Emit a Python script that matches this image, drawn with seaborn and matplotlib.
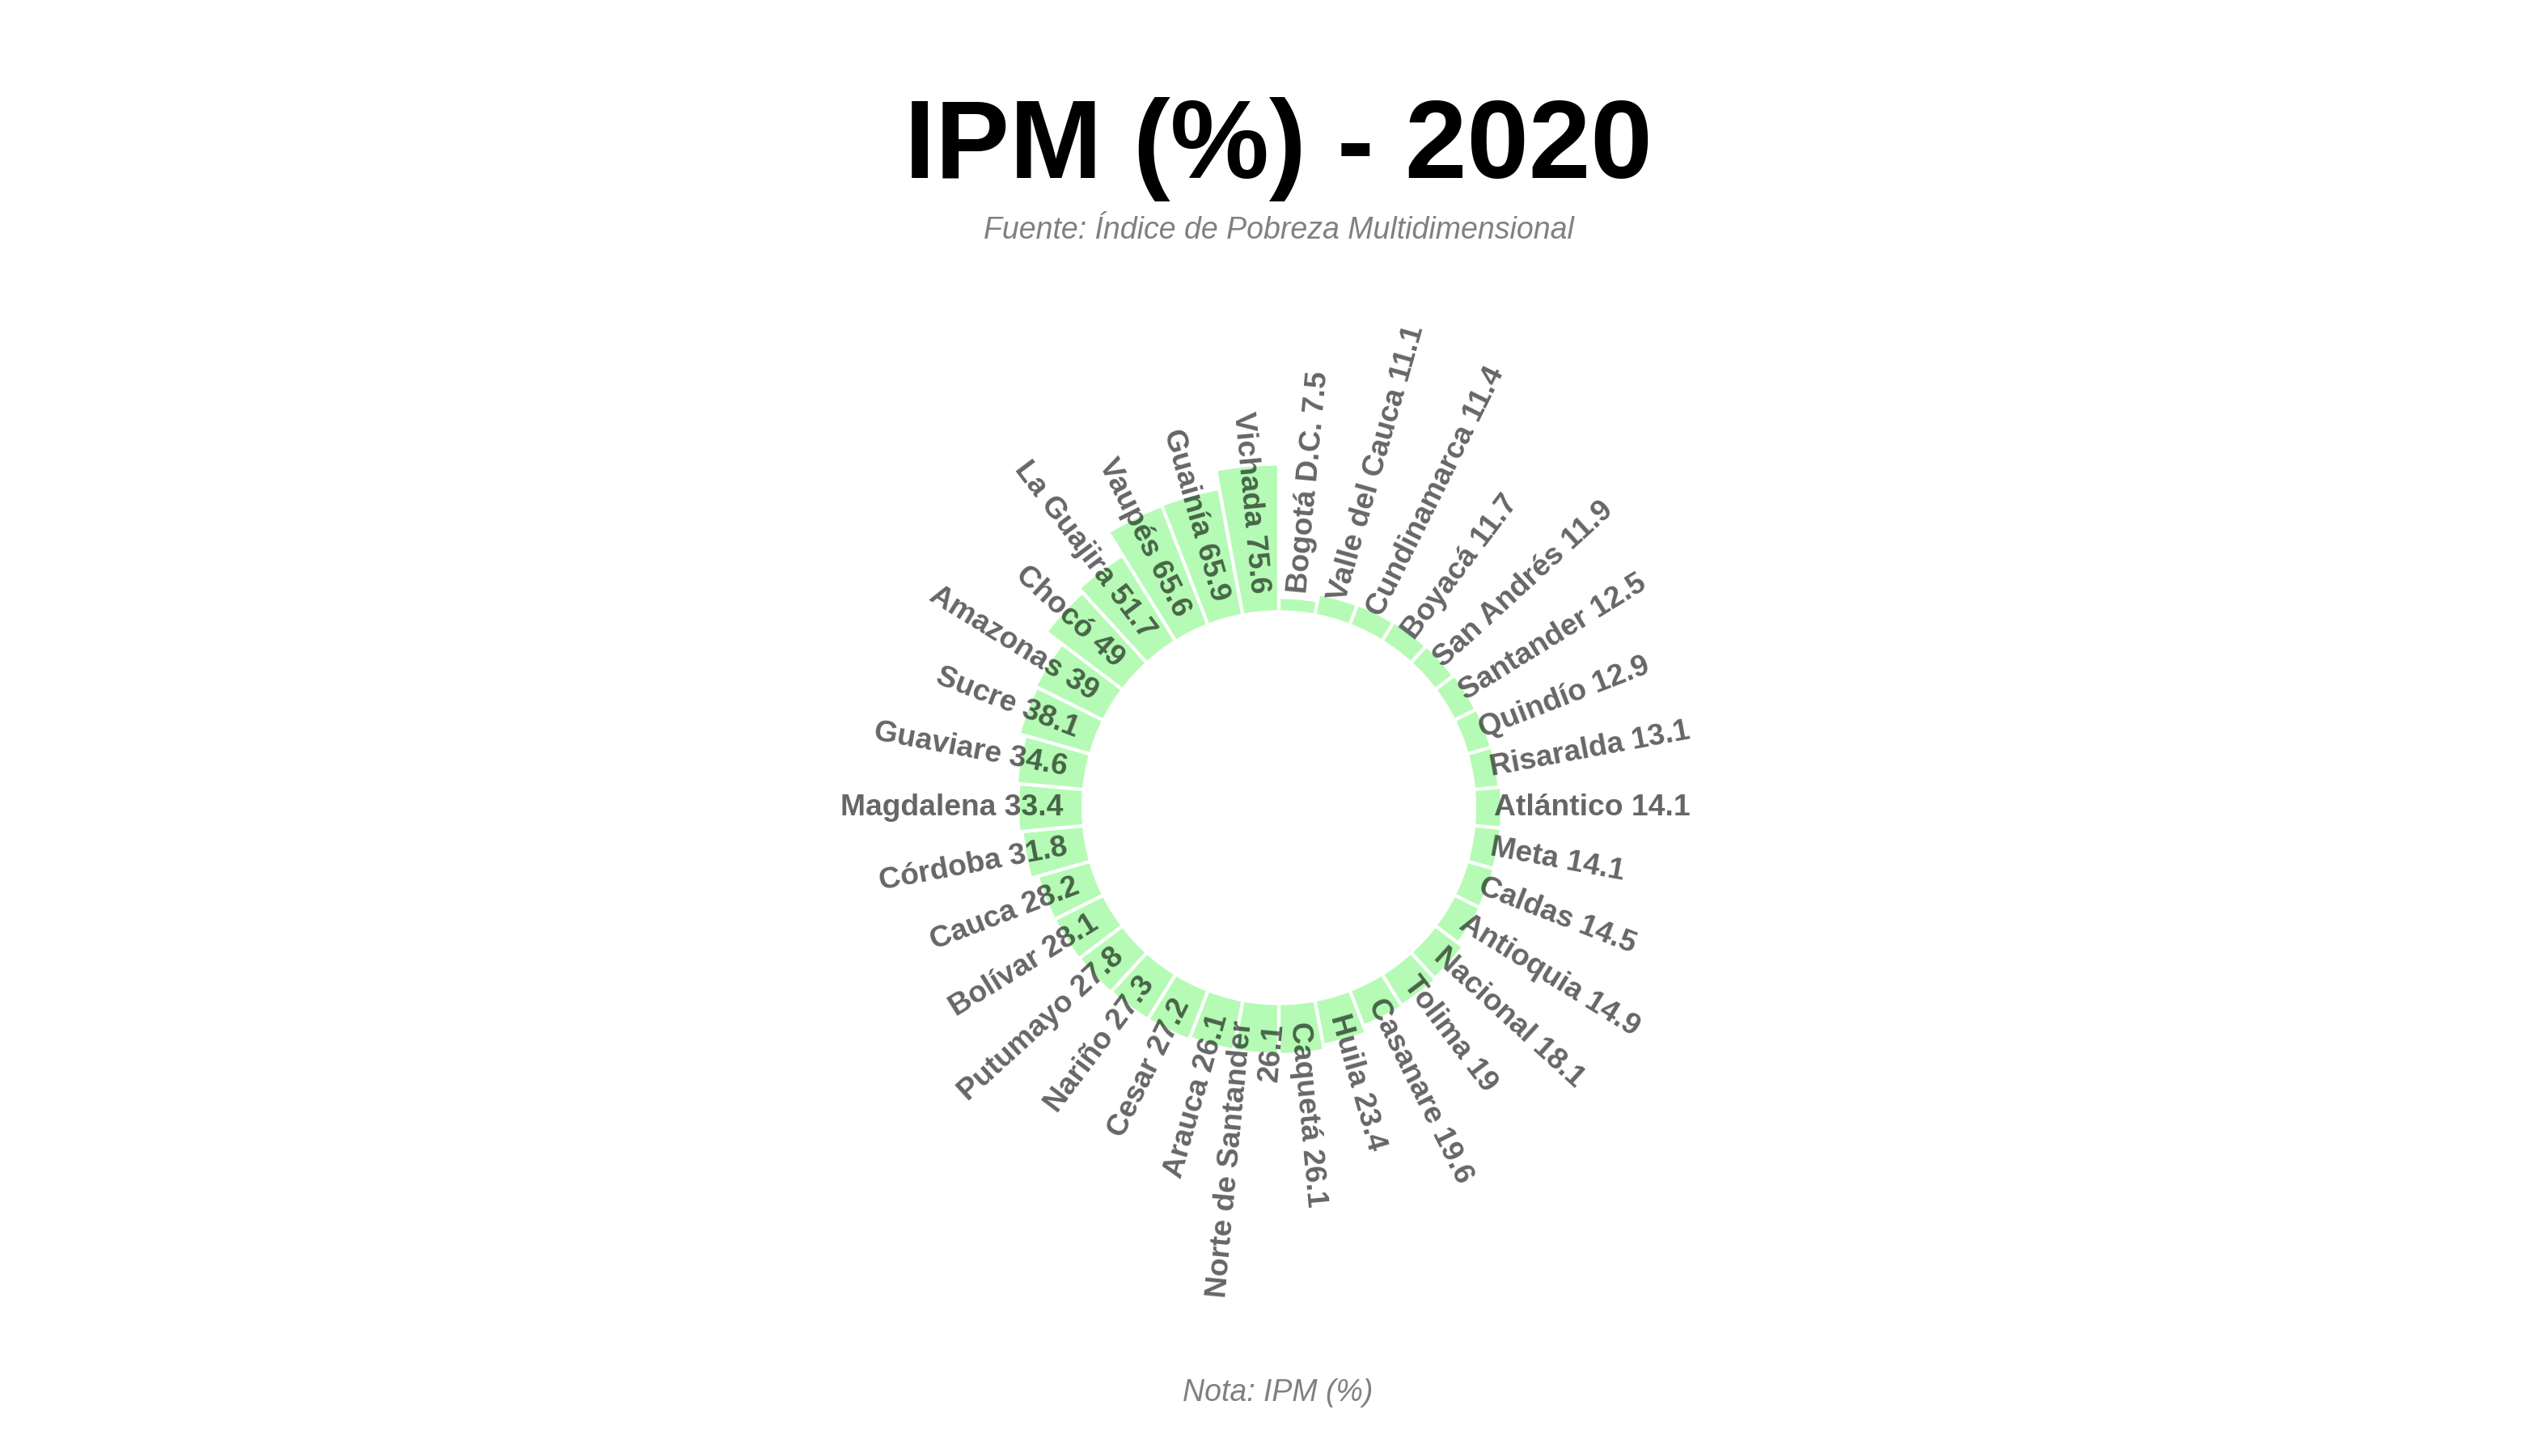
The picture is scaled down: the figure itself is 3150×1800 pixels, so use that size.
import textwrap
import numpy as np
import pandas as pd
import matplotlib
matplotlib.use("Agg")
import matplotlib.pyplot as plt
import seaborn as sns

# IPM 2020 por departamento (orden ascendente, sentido horario desde arriba)
departamentos = [
    "Bogotá D.C.", "Valle del Cauca", "Cundinamarca", "Boyacá", "San Andrés",
    "Santander", "Quindío", "Risaralda", "Atlántico", "Meta", "Caldas",
    "Antioquia", "Nacional", "Tolima", "Casanare", "Huila", "Caquetá",
    "Norte de Santander", "Arauca", "Cesar", "Nariño", "Putumayo", "Bolívar",
    "Cauca", "Córdoba", "Magdalena", "Guaviare", "Sucre", "Amazonas", "Chocó",
    "La Guajira", "Vaupés", "Guainía", "Vichada",
]
ipm = [
    7.5, 11.1, 11.4, 11.7, 11.9, 12.5, 12.9, 13.1, 14.1, 14.1, 14.5,
    14.9, 18.1, 19.0, 19.6, 23.4, 26.1, 26.1, 26.1, 27.2, 27.3, 27.8, 28.1,
    28.2, 31.8, 33.4, 34.6, 38.1, 39.0, 49.0, 51.7, 65.6, 65.9, 75.6,
]

titulo = "IPM (%) - 2020"
subtitulo = "Fuente: Índice de Pobreza Multidimensional"
nota = "Nota: IPM (%)"

n = len(departamentos)
df = pd.DataFrame({"depto": departamentos, "ipm": ipm})
df["theta"] = 2 * np.pi * (np.arange(n) + 0.5) / n
df["label"] = [textwrap.fill(f"{d} {v:g}", 20) for d, v in zip(df["depto"], df["ipm"])]

sns.set_theme(style="white")
plt.rcParams["font.family"] = ["Liberation Sans", "DejaVu Sans"]

fig = plt.figure(figsize=(10.5, 6), dpi=300)

# eje polar: centro en (1581, 998) px, 2.42 px por unidad, hueco interior de -100
ymin, ymax = -100, 120
W, H = 3150, 1800
R = (ymax - ymin) * 2.42
cx, cy = 1581, H - 998.5
ax = fig.add_axes([(cx - R) / W, (cy - R) / H, 2 * R / W, 2 * R / H], projection="polar")
ax.set_theta_zero_location("N")
ax.set_theta_direction(-1)

sns.barplot(data=df, x="theta", y="ipm", native_scale=True, width=1, orient="x",
            color="#b5fbb5", saturation=1, errorbar=None,
            edgecolor="white", linewidth=1.0, ax=ax)

ax.set_xlim(0, 2 * np.pi)
ax.set_ylim(ymin, ymax)
ax.set_axis_off()

# etiquetas rotadas
for _, row in df.iterrows():
    ang = 90 - np.degrees(row["theta"])
    if ang < -90:
        rot, ha = ang + 180, "right"
    else:
        rot, ha = ang, "left"
    ax.text(row["theta"], 10, row["label"], rotation=rot, rotation_mode="anchor",
            ha=ha, va="center", multialignment=ha, fontsize=8.95, fontweight="bold",
            color="black", alpha=0.6, linespacing=1.15, clip_on=False)

fig.text(1580 / W, 1 - 220 / H, titulo, ha="center", va="baseline",
         fontsize=33, fontweight="bold", color="black")
fig.text(1581 / W, 1 - 295 / H, subtitulo, ha="center", va="baseline",
         fontsize=9, fontstyle="italic", color="#808080")
fig.text(1580 / W, 1 - 1732 / H, nota, ha="center", va="baseline",
         fontsize=9, fontstyle="italic", color="#808080")

fig.savefig("out.png", dpi=300, facecolor="white")
